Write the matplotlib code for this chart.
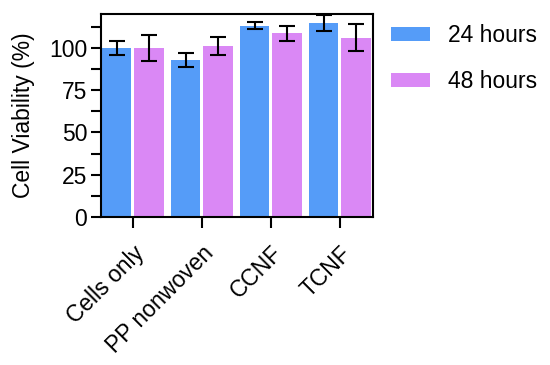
import matplotlib
matplotlib.use("Agg")
import matplotlib.pyplot as plt
import numpy as np
from matplotlib.ticker import MultipleLocator

plt.rcParams['font.family'] = ['Liberation Sans', 'DejaVu Sans']

categories = ["Cells only", "PP nonwoven", "CCNF", "TCNF"]
series_names = ["24 hours", "48 hours"]
vals_24 = [100, 93, 113.2, 114.6]
err_24 = [4.0, 4.2, 1.9, 4.6]
vals_48 = [100, 101, 108.5, 106.1]
err_48 = [7.5, 5.2, 4.2, 8.0]
yticks = [0, 25, 50, 75, 100]

colors = ['#559CF8', '#DA88F5']
FS = 16.5

fig = plt.figure(figsize=(5.5, 3.65), dpi=100)
ax = fig.add_axes([101/550, 1-217/365, 272/550, 203/365])

x = np.arange(len(categories))
w = 0.43
off = 0.235
for i, (vals, errs, c, name) in enumerate([(vals_24, err_24, colors[0], series_names[0]),
                                            (vals_48, err_48, colors[1], series_names[1])]):
    pos = x + (-off if i == 0 else off)
    ax.bar(pos, vals, width=w, color=c, label=name, zorder=2)
    ax.errorbar(pos, vals, yerr=errs, fmt='none', ecolor='black', elinewidth=1.5,
                capsize=6, capthick=1.5, zorder=3)

ax.set_xlim(-0.46, 3.48)
ax.set_ylim(0, 120)
ax.set_yticks(yticks)
ax.yaxis.set_minor_locator(MultipleLocator(12.5))
ax.set_xticks(x)
ax.set_xticklabels(categories, rotation=45, ha='right', rotation_mode='anchor', fontsize=FS)
ax.tick_params(axis='y', which='major', length=7, width=1.5, labelsize=FS, pad=3)
ax.tick_params(axis='y', which='minor', length=7, width=1.5)
ax.tick_params(axis='x', which='major', length=8, width=1.5, pad=10)
for s in ax.spines.values():
    s.set_linewidth(1.5)
ax.set_ylabel("Cell Viability (%)", fontsize=FS, labelpad=10)

leg = ax.legend(loc='upper left', bbox_to_anchor=(1.066, 0.95), frameon=False,
                fontsize=FS, handlelength=1.7, handleheight=0.6, labelspacing=1.0,
                handletextpad=0.8, borderaxespad=0, borderpad=0)

fig.savefig("out.png", dpi=100)
